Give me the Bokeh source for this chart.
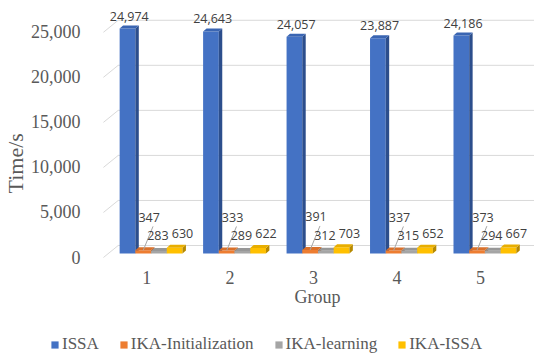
from bokeh.plotting import figure
from bokeh.layouts import column, row
from bokeh.models import Range1d, LinearAxis, FixedTicker, NumeralTickFormatter, Legend, LegendItem, Title
from bokeh.core.properties import value
from bokeh.embed import file_html
from bokeh.resources import INLINE

# ---- data ----
groups = ["1", "2", "3", "4", "5"]
series = ["ISSA", "IKA-Initialization", "IKA-learning", "IKA-ISSA"]
issa = [24974, 24643, 24057, 23887, 24186]
ika_init = [347, 333, 391, 337, 373]
ika_learning = [283, 289, 312, 315, 294]
ika_issa = [630, 622, 703, 652, 667]
y_ticks = [0, 5000, 10000, 15000, 20000, 25000]

# ---- styles ----
front_colors = ["#4472C4", "#ED7D31", "#A5A5A5", "#FFC000"]
side_colors = ["#2C4E8C", "#A9561E", "#767676", "#B68900"]
top_colors = ["#3A65B2", "#D9702A", "#979797", "#E8AE00"]
TXT = "#595959"
SERIF = "Liberation Serif"

W = 534
H1, H2 = 320, 35
PXX = 85.0                  # px per group
UY = 24974 / 225.0          # value units per px
FRAME_L, FRAME_T, FRAME_B = 92, 8, 262
BASE = 253                  # bar-plane zero (fig px)
x0 = 1 - 51.5 / PXX
x1 = 1 + (W - (151.5 - 8)) / PXX
y0 = -(FRAME_B - BASE) * UY
y1 = (BASE - FRAME_T) * UY
FSX, FSY = 4.5, 3.5         # front-plane shift (px)
BW = 16 / PXX
DX, DY = 3.5 / PXX, 3 * UY

p = figure(width=W, height=H1, output_backend="svg", toolbar_location=None,
           title_location=None, x_range=Range1d(x0, x1), y_range=Range1d(y0, y1),
           x_axis_location=None, y_axis_location=None,
           min_border_left=FRAME_L, min_border_right=0, min_border_top=FRAME_T,
           min_border_bottom=H1 - FRAME_B)
p.outline_line_color = None
p.xgrid.visible = False
p.ygrid.visible = False

p.extra_x_ranges = {"front": Range1d(x0 + FSX / PXX, x1 + FSX / PXX)}
p.extra_y_ranges = {"front": Range1d(y0 + FSY * UY, y1 + FSY * UY)}

# gridlines (back wall) and floor diagonals
gx0 = 1 + (118 - 151.5) / PXX
fx0 = 1 + (103 - 151.5) / PXX
gy = [t + 8 * UY for t in y_ticks]
fy = [t - 4 * UY for t in y_ticks]
p.segment(x0=[gx0] * len(y_ticks), y0=gy, x1=[x1] * len(y_ticks), y1=gy,
          line_color="#D9D9D9", line_width=1)
p.segment(x0=[fx0] * len(y_ticks), y0=fy, x1=[gx0] * len(y_ticks), y1=gy,
          line_color="#D9D9D9", line_width=1)

all_vals = [issa, ika_init, ika_learning, ika_issa]
gx = list(range(1, len(groups) + 1))
for k, vals in enumerate(all_vals):
    xc = [g + (k - 1.5) * BW for g in gx]
    p.vbar(x=xc, width=BW, top=vals, bottom=0, fill_color=front_colors[k], line_color=None)
    sxs, sys, txs, tys = [], [], [], []
    for xi, v in zip(xc, vals):
        xr = xi + BW / 2
        xl = xi - BW / 2
        sxs.append([xr, xr + DX, xr + DX, xr])
        sys.append([0, DY, v + DY, v])
        txs.append([xl, xl + DX, xr + DX, xr])
        tys.append([v, v + DY, v + DY, v])
    p.patches(xs=sxs, ys=sys, fill_color=side_colors[k], line_color=None)
    p.patches(xs=txs, ys=tys, fill_color=top_colors[k], line_color=None)

# data labels
lab_font = value("Open Sans")
def fmt(v):
    return f"{v:,}"

xc = [g - 1.5 * BW + DX / 2 for g in gx]
p.text(x=xc, y=[v + DY for v in issa], text=[fmt(v) for v in issa],
       text_align="center", text_baseline="bottom", y_offset=-5,
       text_font=lab_font, text_font_size="12.5px", text_color="#404040")
xo = [g - 0.5 * BW for g in gx]
p.segment(x0=[x + 10 / PXX for x in xo], y0=[v + 24 * UY for v in ika_init],
          x1=xo, y1=ika_init, line_color="#A6A6A6", line_width=1)
offs = {1: (6, -33), 2: (-1, -15), 3: (8, -14)}
for k in (1, 2, 3):
    vals = all_vals[k]
    xc = [g + (k - 1.5) * BW for g in gx]
    ox, oy = offs[k]
    p.text(x=[x + ox / PXX for x in xc], y=[v - oy * UY for v in vals],
           text=[fmt(v) for v in vals], text_align="center", text_baseline="middle",
           text_font=lab_font, text_font_size="12.5px", text_color="#404040")

# axes
yax = LinearAxis(y_range_name="front", ticker=FixedTicker(ticks=y_ticks),
                 formatter=NumeralTickFormatter(format="0,0"))
yax.axis_line_color = None
yax.major_tick_line_color = None
yax.minor_tick_line_color = None
yax.major_label_standoff = 14
yax.major_label_text_font = SERIF
yax.major_label_text_font_size = "18px"
yax.major_label_text_color = TXT
p.add_layout(yax, "left")

ytitle = Title(text="Time/s", align="left", offset=69, standoff=0,
               text_font=SERIF, text_font_size="22px", text_font_style="normal",
               text_color=TXT)
p.add_layout(ytitle, "left")

xax = LinearAxis(x_range_name="front", ticker=FixedTicker(ticks=gx), axis_label="Group")
xax.major_label_overrides = {i + 1: g for i, g in enumerate(groups)}
xax.axis_line_color = None
xax.major_tick_line_color = None
xax.minor_tick_line_color = None
xax.major_label_standoff = 2
xax.axis_label_standoff = 0
xax.major_label_text_font = SERIF
xax.major_label_text_font_size = "18px"
xax.major_label_text_color = TXT
xax.axis_label_text_font = SERIF
xax.axis_label_text_font_size = "18px"
xax.axis_label_text_font_style = "normal"
xax.axis_label_text_color = TXT
p.add_layout(xax, "below")

# legend strip
q = figure(width=W, height=H2, output_backend="svg", toolbar_location=None,
           title_location=None, x_range=Range1d(0, 1), y_range=Range1d(0, 1),
           x_axis_location=None, y_axis_location=None,
           min_border_left=0, min_border_right=0, min_border_top=0, min_border_bottom=0)
q.outline_line_color = None
q.xgrid.visible = False
q.ygrid.visible = False
leg_r = [q.vbar(x=[0.5], top=[0], bottom=[0], width=0.0, fill_color=c, line_color=None)
         for c in front_colors]
legend = Legend(items=[LegendItem(label=s, renderers=[r]) for s, r in zip(series, leg_r)],
                orientation="horizontal", location=(50, 1))
legend.border_line_color = None
legend.background_fill_alpha = 0
legend.padding = 0
legend.margin = 0
legend.spacing = 20
legend.glyph_width = 9
legend.glyph_height = 9
legend.label_standoff = 3
legend.label_height = 18
legend.label_text_font = "Times"
legend.label_text_font_size = "17px"
legend.label_text_color = TXT
q.add_layout(legend, "center")

layout = column(p, row(q, spacing=0), spacing=0)
open("out.html", "w").write(file_html(layout, INLINE))
